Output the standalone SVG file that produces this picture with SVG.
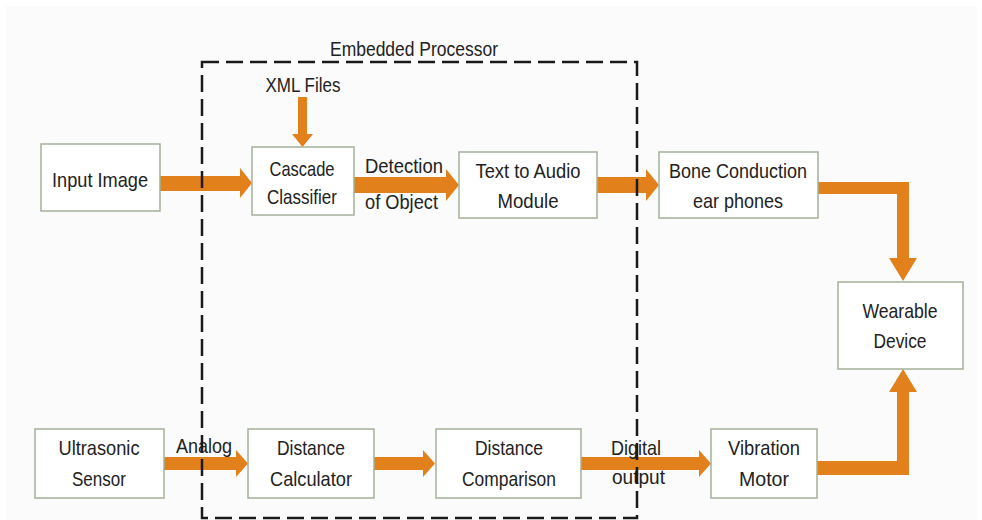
<svg xmlns="http://www.w3.org/2000/svg" width="982" height="520" viewBox="0 0 982 520">
<style>
.box{fill:#ffffff;stroke:#a3b198;stroke-width:1.5}
.t{font-family:"Liberation Sans",Arial,sans-serif;font-size:21px;fill:#222222;text-anchor:middle}
.l{font-family:"Liberation Sans",Arial,sans-serif;font-size:21px;fill:#222222}
.arr{fill:#e2811b}
.dash{fill:none;stroke:#1a1a1a;stroke-width:2.5;stroke-dasharray:17 7}
</style>
<rect x="6" y="6" width="971" height="514" fill="#fbfbfb"/>

<g id="connectors">
  <polygon class="arr" points="160,176 240,176 240,168 252,183 240,198 240,191 160,191"/>
  <polygon class="arr" points="354,177 446,177 446,169 459,185 446,201 446,193 354,193"/>
  <polygon class="arr" points="597,177 646,177 646,169 659,185 646,201 646,193 597,193"/>
  <polygon class="arr" points="298,97 307,97 307,134 313,134 302.5,147 292,134 298,134"/>
  <polygon class="arr" points="818,182 909,182 909,258 917,258 903,281 889,258 897,258 897,194 818,194"/>
  <polygon class="arr" points="817,475 909,475 909,392 917,392 903,369 889,392 897,392 897,461 817,461"/>
  <polygon class="arr" points="164,457 236,457 236,450 248,463.5 236,477 236,470 164,470"/>
  <polygon class="arr" points="374,457 423,457 423,450 435,463.5 423,477 423,470 374,470"/>
  <polygon class="arr" points="581,457 699,457 699,450 711,463.5 699,477 699,470 581,470"/>
</g>

<g id="input-image"><rect class="box" x="41" y="144" width="119" height="67"/><text class="t" x="100" y="187" textLength="96" lengthAdjust="spacingAndGlyphs">Input Image</text></g>
<g id="cascade-classifier"><rect class="box" x="252" y="147" width="102" height="68"/><text class="t" x="302" y="176" textLength="65" lengthAdjust="spacingAndGlyphs">Cascade</text><text class="t" x="302" y="204" textLength="70" lengthAdjust="spacingAndGlyphs">Classifier</text></g>
<g id="xml-files"><text class="t" x="303" y="92" textLength="75" lengthAdjust="spacingAndGlyphs">XML Files</text></g>
<g id="detection-label"><text class="l" x="365" y="173" textLength="78" lengthAdjust="spacingAndGlyphs">Detection</text><text class="l" x="365" y="209" textLength="73" lengthAdjust="spacingAndGlyphs">of Object</text></g>
<g id="text-to-audio"><rect class="box" x="459" y="152" width="138" height="66"/><text class="t" x="528" y="178" textLength="105" lengthAdjust="spacingAndGlyphs">Text to Audio</text><text class="t" x="528" y="208" textLength="61" lengthAdjust="spacingAndGlyphs">Module</text></g>
<g id="bone-conduction"><rect class="box" x="659" y="152" width="159" height="66"/><text class="t" x="738" y="178" textLength="138" lengthAdjust="spacingAndGlyphs">Bone Conduction</text><text class="t" x="738" y="208" textLength="90" lengthAdjust="spacingAndGlyphs">ear phones</text></g>
<g id="wearable-device"><rect class="box" x="838" y="282" width="125" height="87"/><text class="t" x="900" y="318" textLength="75" lengthAdjust="spacingAndGlyphs">Wearable</text><text class="t" x="900" y="348" textLength="53" lengthAdjust="spacingAndGlyphs">Device</text></g>
<g id="ultrasonic-sensor"><rect class="box" x="35" y="429" width="129" height="69"/><text class="t" x="99" y="455" textLength="81" lengthAdjust="spacingAndGlyphs">Ultrasonic</text><text class="t" x="99" y="486" textLength="54" lengthAdjust="spacingAndGlyphs">Sensor</text></g>
<g id="analog-label"><text class="l" x="176" y="453" textLength="56" lengthAdjust="spacingAndGlyphs">Analog</text></g>
<g id="distance-calculator"><rect class="box" x="248" y="429" width="126" height="69"/><text class="t" x="311" y="455" textLength="68" lengthAdjust="spacingAndGlyphs">Distance</text><text class="t" x="311" y="486" textLength="82" lengthAdjust="spacingAndGlyphs">Calculator</text></g>
<g id="distance-comparison"><rect class="box" x="436" y="429" width="145" height="69"/><text class="t" x="509" y="455" textLength="68" lengthAdjust="spacingAndGlyphs">Distance</text><text class="t" x="509" y="486" textLength="94" lengthAdjust="spacingAndGlyphs">Comparison</text></g>
<g id="digital-label"><text class="l" x="611" y="455" textLength="50" lengthAdjust="spacingAndGlyphs">Digital</text><text class="l" x="612" y="484" textLength="53" lengthAdjust="spacingAndGlyphs">output</text></g>
<g id="vibration-motor"><rect class="box" x="711" y="429" width="106" height="69"/><text class="t" x="764" y="455" textLength="72" lengthAdjust="spacingAndGlyphs">Vibration</text><text class="t" x="764" y="486" textLength="50" lengthAdjust="spacingAndGlyphs">Motor</text></g>

<g id="embedded-processor">
  <rect class="dash" x="202" y="62" width="435" height="456"/>
  <text class="t" x="414" y="56" textLength="168" lengthAdjust="spacingAndGlyphs">Embedded Processor</text>
</g>
</svg>
